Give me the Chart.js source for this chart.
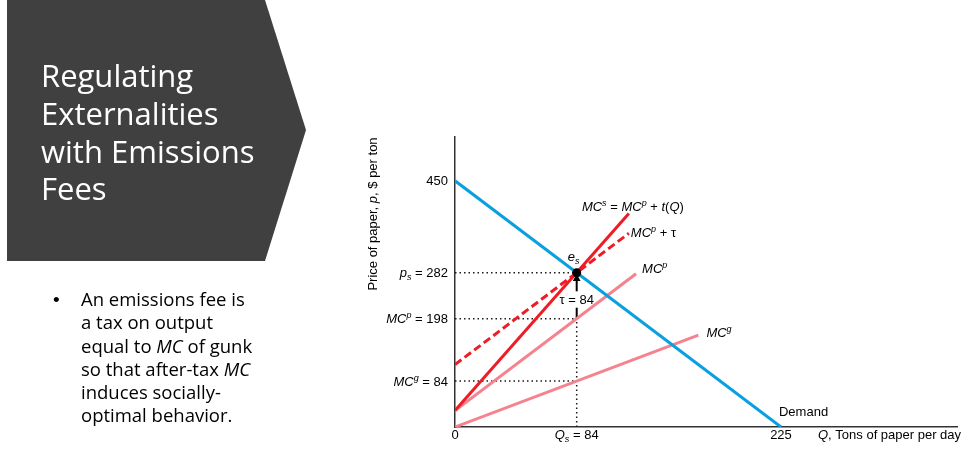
<!DOCTYPE html>
<html>
<head>
<meta charset="utf-8">
<script src="https://cdn.jsdelivr.net/npm/chart.js@4.4.1/dist/chart.umd.min.js"></script>
<style>
  html, body { margin: 0; padding: 0; background: #fff; }
  #wrap { position: relative; width: 969px; height: 457px; overflow: hidden; }
  #myChart { position: absolute; left: 0; top: 0; }
  #panel {
    position: absolute; left: 7px; top: 0; width: 300px; height: 261px;
    background: #404040;
    clip-path: polygon(0 0, 258px 0, 299px 130px, 258px 261px, 0 261px);
  }
  #title {
    position: absolute; left: 41px; top: 57px; color: #fff;
    font-family: "Open Sans", sans-serif; font-size: 31px; line-height: 37.8px;
  }
  #bullet {
    position: absolute; left: 81px; top: 287px; width: 220px; color: #000;
    font-family: "Open Sans", sans-serif; font-size: 18.5px; line-height: 23.3px;
  }
  #dot { position: absolute; left: 53px; top: 288px; font-family: "Liberation Sans", sans-serif; font-size: 19px; line-height: 23.3px; }
</style>
</head>
<body>
<div id="wrap">
  <canvas id="myChart" width="969" height="457"></canvas>
  <div id="panel"></div>
  <div id="title">Regulating<br>Externalities<br>with Emissions<br>Fees</div>
  <div id="dot">•</div>
  <div id="bullet">An emissions fee is<br>a tax on output<br>equal to <i>MC</i> of gunk<br>so that after-tax <i>MC</i><br>induces socially-<br>optimal behavior.</div>
</div>
<script>
// chart values
var qTicks = [0, 84, 225];
var pTicks = [450, 282, 198, 84];
var demandQ = [0, 225], demandP = [450, 0];
var mcgQ = [0, 168], mcgP = [0, 168];
var mcpQ = [0, 125], mcpP = [30, 280];
var mcsQ = [0, 120], mcsP = [30, 390];
var mcpTauQ = [0, 120], mcpTauP = [114, 354];
var qs = 84, ps = 282, mcpAtQs = 198, mcgAtQs = 84, tau = 84;

var BLUE = '#0aa0e0', RED = '#ee1c25', PINK = '#f5838e', INK = '#1a1a1a';

function pts(xs, ys) {
    return xs.map(function (x, i) { return {x: x, y: ys[i]}; });
}

function lineSet(data, color, width, dash, order) {
    return {
        data: data, showLine: true, borderColor: color, borderWidth: width,
        borderDash: dash || [], pointRadius: 0, order: order, tension: 0
    };
}

var datasets = [
    // dotted guides
    lineSet([{x: 0, y: ps}, {x: qs, y: ps}], INK, 1.5, [1.5, 3], 9),
    lineSet([{x: 0, y: mcpAtQs}, {x: qs, y: mcpAtQs}], INK, 1.5, [1.5, 3], 9),
    lineSet([{x: 0, y: mcgAtQs}, {x: qs, y: mcgAtQs}], INK, 1.5, [1.5, 3], 9),
    lineSet([{x: qs, y: 0}, {x: qs, y: mcpAtQs}], INK, 1.5, [1.5, 3], 9),
    // tax arrow
    lineSet([{x: qs, y: mcpAtQs}, {x: qs, y: mcpAtQs + 20}], '#000', 2, [], 8),
    lineSet([{x: qs, y: mcpAtQs + 50}, {x: qs, y: ps - 12}], '#000', 2, [], 8),
    {data: [{x: qs, y: ps - 11}], pointStyle: 'triangle', pointRadius: 4.5,
     backgroundColor: '#000', borderColor: '#000', borderWidth: 0, order: 8},
    // curves
    lineSet(pts(mcgQ, mcgP), PINK, 3, [], 6),
    lineSet(pts(mcpQ, mcpP), PINK, 3, [], 6),
    lineSet(pts(demandQ, demandP), BLUE, 3, [], 5),
    lineSet(pts(mcpTauQ, mcpTauP), RED, 3, [8, 4], 4),
    lineSet(pts(mcsQ, mcsP), RED, 3, [], 3),
    // equilibrium
    {data: [{x: qs, y: ps}], pointRadius: 4.5, backgroundColor: '#000',
     borderColor: '#000', borderWidth: 0, order: 0}
];

var FONT = '"Liberation Sans", Arial, sans-serif';

// parts: [text, kind] kind: '' plain, 'i' italic, 'sup', 'sub'
function fontFor(kind) {
    if (kind === 'sup' || kind === 'sub') return 'italic 9px ' + FONT;
    if (kind === 'i') return 'italic 13px ' + FONT;
    return '13px ' + FONT;
}
function drawRich(ctx, parts, x, y, align) {
    var w = 0;
    parts.forEach(function (p) { ctx.font = fontFor(p[1]); w += ctx.measureText(p[0]).width; });
    var cx = align === 'right' ? x - w : align === 'center' ? x - w / 2 : x;
    ctx.textAlign = 'left';
    ctx.textBaseline = 'alphabetic';
    parts.forEach(function (p) {
        ctx.font = fontFor(p[1]);
        var dy = p[1] === 'sup' ? -5 : p[1] === 'sub' ? 3 : 0;
        ctx.fillText(p[0], cx, y + dy);
        cx += ctx.measureText(p[0]).width;
    });
}

var yLabels = {
    450: [['450', '']],
    282: [['p', 'i'], ['s', 'sub'], [' = 282', '']],
    198: [['MC', 'i'], ['p', 'sup'], [' = 198', '']],
    84: [['MC', 'i'], ['g', 'sup'], [' = 84', '']]
};
var xLabels = {
    0: [['0', '']],
    84: [['Q', 'i'], ['s', 'sub'], [' = 84', '']],
    225: [['225', '']]
};

// curve labels anchored to data points, offsets in px
var curveLabels = [
    {at: [mcsQ[1], mcsP[1]], dx: 4, dy: -3, align: 'center',
     parts: [['MC', 'i'], ['s', 'sup'], [' = ', ''], ['MC', 'i'], ['p', 'sup'], [' + ', ''], ['t', 'i'], ['(', ''], ['Q', 'i'], [')', '']]},
    {at: [mcpTauQ[1], mcpTauP[1]], dx: 2, dy: 4, align: 'left',
     parts: [['MC', 'i'], ['p', 'sup'], [' + τ', '']]},
    {at: [mcpQ[1], mcpP[1]], dx: 6, dy: -1, align: 'left', parts: [['MC', 'i'], ['p', 'sup']]},
    {at: [mcgQ[1], mcgP[1]], dx: 8, dy: 2, align: 'left', parts: [['MC', 'i'], ['g', 'sup']]},
    {at: [demandQ[1], demandP[1]], dx: -2, dy: -11, align: 'left', parts: [['Demand', '']]},
    {at: [qs, ps], dx: -9, dy: -12, align: 'left', parts: [['e', 'i'], ['s', 'sub']]},
    {at: [qs, ps], dx: 0, dy: 31, align: 'center', parts: [['τ = ' + tau, '']]}
];

var labelPlugin = {
    id: 'labels',
    afterDraw: function (chart) {
        var ctx = chart.ctx, xs = chart.scales.x, ys = chart.scales.y;
        ctx.save();
        ctx.fillStyle = '#000';
        pTicks.forEach(function (v) {
            drawRich(ctx, yLabels[v], xs.left - 7, ys.getPixelForValue(v) + 4.5, 'right');
        });
        qTicks.forEach(function (v) {
            drawRich(ctx, xLabels[v], xs.getPixelForValue(v), ys.bottom + 12, 'center');
        });
        drawRich(ctx, [['Q', 'i'], [', Tons of paper per day', '']], 818, ys.bottom + 12, 'left');
        curveLabels.forEach(function (l) {
            drawRich(ctx, l.parts, xs.getPixelForValue(l.at[0]) + l.dx,
                     ys.getPixelForValue(l.at[1]) + l.dy, l.align);
        });
        ctx.translate(377, 214);
        ctx.rotate(-Math.PI / 2);
        drawRich(ctx, [['Price of paper, ', ''], ['p', 'i'], [', $ per ton', '']], 0, 0, 'center');
        ctx.restore();
    }
};

var ctx = document.getElementById('myChart').getContext('2d');

var myChart = new Chart(ctx, {
    type: 'scatter',
    data: {datasets: datasets},
    plugins: [labelPlugin],
    options: {
        responsive: false,
        animation: false,
        layout: {padding: {left: 455, top: 137, right: 12, bottom: 30}},
        plugins: {legend: {display: false}, tooltip: {enabled: false}},
        scales: {
            x: {
                type: 'linear', min: 0, max: 346.5,
                ticks: {display: false},
                grid: {display: false},
                border: {display: true, color: '#333', width: 1.5},
                afterFit: function (s) { s.height = 0; }
            },
            y: {
                type: 'linear', min: 0, max: 530,
                ticks: {display: false},
                grid: {display: false},
                border: {display: true, color: '#333', width: 1.5},
                afterFit: function (s) { s.width = 0; }
            }
        }
    }
});
</script>
</body>
</html>
